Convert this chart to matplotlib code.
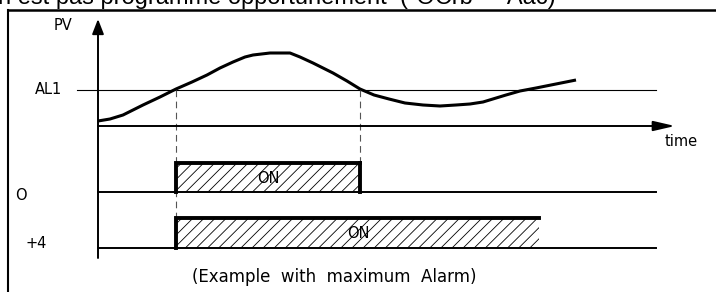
import matplotlib.pyplot as plt
from matplotlib.patches import Rectangle

# process value curve (time, PV), in pixel units
curve_time = [98, 110, 123, 143, 160, 176, 192, 207, 220, 233, 245, 253, 270, 290,
              300, 313, 333, 347, 360, 374, 389, 405, 423, 440, 456, 470, 483,
              506, 520, 536, 556, 576]
curve_pv = [121, 119, 115, 105, 97, 89, 82, 75, 68, 62, 57, 55, 53, 53,
            57, 63, 73, 81, 89, 95, 99, 103, 105, 106, 105, 104, 102,
            95, 91, 88, 84, 80]

al1_level = 90
time_axis_level = 126
crossings = [176, 360]

# output rows: label, baseline, bar top, on-start, on-end, right edge drawn
row_labels = ["O", "+4"]
row_base = [192, 248]
row_top = [163, 218]
on_start = [176, 176]
on_end = [360, 539]
right_edge = [True, False]

fig = plt.figure(figsize=(7.16, 2.92), dpi=100)
ax = fig.add_axes([0, 0, 1, 1])
ax.set_xlim(0, 716)
ax.set_ylim(292, 0)
ax.axis('off')
plt.rcParams['hatch.linewidth'] = 0.6

# clipped caption at top and frame
ax.text(-2, 4, 'n est pas programmé opportunément  ("OCrb" = Aac)',
        fontsize=17, family='Liberation Sans', va='baseline', ha='left')
ax.plot([7, 716], [10, 10], color='black', lw=1.8, solid_capstyle='butt')
ax.plot([7.5, 7.5], [10, 292], color='black', lw=1.5)

# axes
ax.annotate('', xy=(98, 19), xytext=(98, 258),
            arrowprops=dict(arrowstyle='-|>,head_length=0.9,head_width=0.35',
                            color='black', lw=1.4, shrinkA=0, shrinkB=0))
ax.annotate('', xy=(675, time_axis_level), xytext=(98, time_axis_level),
            arrowprops=dict(arrowstyle='-|>,head_length=1.3,head_width=0.3',
                            color='black', lw=1.4, shrinkA=0, shrinkB=0))

label_font = dict(family='DejaVu Sans', fontsize=10.5)
ax.text(63, 25, 'PV', ha='center', va='center', **label_font)
ax.text(681, 141, 'time', ha='center', va='center', **label_font)
ax.text(49, 90, 'AL1', ha='center', va='center', **label_font)

# alarm threshold
ax.plot([77, 656], [al1_level, al1_level], color='black', lw=0.8)

# PV curve
ax.plot(curve_time, curve_pv, color='black', lw=2.2, solid_capstyle='butt')

# dashed guides to the output rows
ax.plot([crossings[0]] * 2, [al1_level, row_top[1]], color='#555555', lw=0.8,
        dashes=(6, 4))
ax.plot([crossings[1]] * 2, [al1_level, row_top[0]], color='#555555', lw=0.8,
        dashes=(6, 4))

# output rows
for i in range(len(row_labels)):
    base, top = row_base[i], row_top[i]
    x0, x1 = on_start[i], on_end[i]
    ax.plot([98, 656], [base, base], color='black', lw=1.4)
    ax.add_patch(Rectangle((x0, top), x1 - x0, base - top, facecolor='none',
                           edgecolor='black', hatch='///', lw=0))
    ax.plot([x0, x0, x1], [base, top, top], color='black', lw=2.8,
            solid_joinstyle='miter')
    if right_edge[i]:
        ax.plot([x1, x1], [top, base], color='black', lw=2.8)
    ax.text((x0 + x1) / 2 if right_edge[i] else 358, (top + base) / 2 + 1,
            'ON', ha='center', va='center', **label_font)

ax.text(21, 195, row_labels[0], ha='center', va='center', **label_font)
ax.text(36, 243, row_labels[1], ha='center', va='center', **label_font)

ax.text(334, 277, '(Example  with  maximum  Alarm)', ha='center', va='center',
        family='DejaVu Sans', fontsize=12)

fig.savefig('out.png', dpi=100)
